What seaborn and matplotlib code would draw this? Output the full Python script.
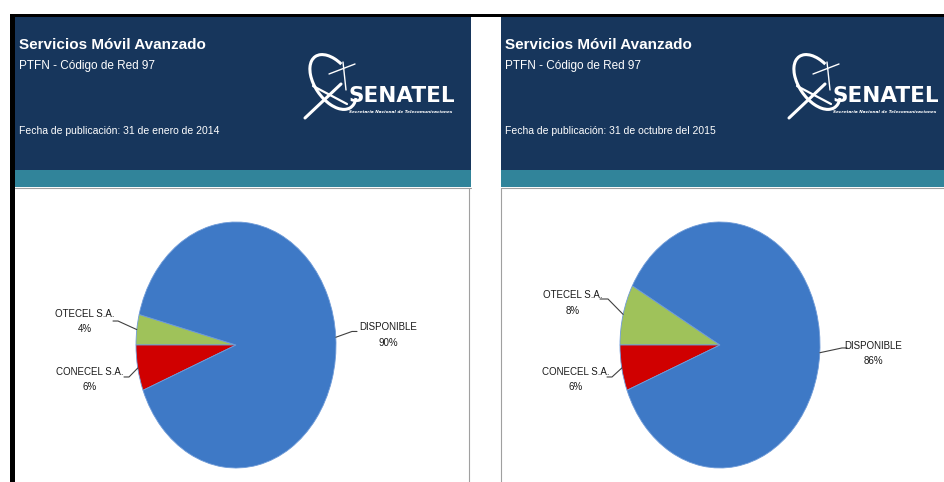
import numpy as np
import matplotlib
matplotlib.use("Agg")
import matplotlib.pyplot as plt
from matplotlib.patches import Rectangle, Arc
import seaborn as sns

# data
labels = ["OTECEL S.A.", "CONECEL S.A.", "DISPONIBLE"]
share_2014 = [4, 6, 90]
share_2015 = [8, 6, 86]
title = "Servicios Móvil Avanzado"
subtitle = "PTFN - Código de Red 97"
dates = ["Fecha de publicación: 31 de enero de 2014",
         "Fecha de publicación: 31 de octubre del 2015"]

colors = ["#9FC25A", "#D00000", "#3E79C6"]
NAVY = "#17365C"
TEAL = "#31849A"

sns.set_theme(style="white")
plt.rcParams["font.family"] = ["Liberation Sans Narrow", "Liberation Sans", "DejaVu Sans"]

W, H = 945, 482
fig = plt.figure(figsize=(9.45, 4.82), dpi=100)
fig.patch.set_facecolor("white")

# background axes in pixel coordinates for the report frame
bg = fig.add_axes([0, 0, 1, 1])
bg.set_xlim(0, W)
bg.set_ylim(H, 0)
bg.axis("off")

bg.add_patch(Rectangle((10, 14), W - 10, 3, color="black", lw=0))
bg.add_patch(Rectangle((10, 14), 5, H - 14, color="black", lw=0))

panels = [(15, 471), (501, W)]
for i, (x0, x1) in enumerate(panels):
    bg.add_patch(Rectangle((x0, 17), x1 - x0, 153, color=NAVY, lw=0))
    bg.add_patch(Rectangle((x0, 170), x1 - x0, 17, color=TEAL, lw=0))
    bg.plot([x0, x1], [188, 188], color="#A0A0A0", lw=0.8)
    if i == 0:
        bg.plot([x1 - 2, x1 - 2], [188, H], color="#A0A0A0", lw=0.8)
    else:
        bg.plot([x0, x0], [188, H], color="#A0A0A0", lw=0.8)

    tx = x0 + 4
    bg.text(tx, 45, title, color="white", fontsize=11, fontweight="bold", va="center")
    bg.text(tx, 66, subtitle, color="white", fontsize=8.5, va="center")
    bg.text(tx, 131, dates[i], color="white", fontsize=7.5, va="center")

    # SENATEL logo, roughly
    lx = 349 + 484 * i
    bg.text(lx, 96, "SENATEL", color="white", fontsize=15.5, fontweight="bold",
            family="DejaVu Sans", va="center", ha="left")
    bg.text(lx, 112, "Secretaría Nacional de Telecomunicaciones", color="white",
            fontsize=3.1, fontweight="bold", style="italic", family="DejaVu Sans",
            va="center", ha="left")
    bg.add_patch(Arc((lx - 16, 82), 36, 62, angle=-35, theta1=70, theta2=330,
                     color="white", lw=2.2))
    bg.plot([lx - 44, lx - 8], [118, 84], color="white", lw=2.2)
    bg.plot([lx - 36, lx - 2], [86, 104], color="white", lw=1.6)
    bg.plot([lx - 20, lx + 6], [74, 64], color="white", lw=1)
    bg.plot([lx - 6, lx - 3], [62, 90], color="white", lw=1)

# pies: center and radii in pixels, label layout in data units
charts = [
    dict(values=share_2014, cx=236,
         text_pos=[(-1.51, 0.19), (-1.46, -0.28), (1.52, 0.08)],
         elbow=[((-1.18, 0.195), (-1.23, 0.195)),
                ((-1.07, -0.26), (-1.12, -0.26)),
                ((1.16, 0.11), (1.21, 0.11))]),
    dict(values=share_2015, cx=720,
         text_pos=[(-1.47, 0.34), (-1.44, -0.28), (1.53, -0.07)],
         elbow=[((-1.12, 0.374), (-1.20, 0.374)),
                ((-1.08, -0.26), (-1.13, -0.26)),
                ((1.22, -0.024), (1.27, -0.024))]),
]
cy, rx, ry = 345, 100, 123

for ch in charts:
    ax = fig.add_axes([(ch["cx"] - rx) / W, 1 - (cy + ry) / H, 2 * rx / W, 2 * ry / H])
    vals = ch["values"]
    wedges, _ = ax.pie(vals, colors=colors, startangle=180 - vals[0] * 3.6,
                       counterclock=True,
                       wedgeprops=dict(edgecolor="#6F9BD8", linewidth=0.6))
    ax.set_aspect("auto")
    ax.set_xlim(-1, 1)
    ax.set_ylim(-1, 1)
    ax.axis("off")

    for w, lab, v, (px, py), (elb, end) in zip(wedges, labels, vals,
                                              ch["text_pos"], ch["elbow"]):
        mid = np.deg2rad((w.theta1 + w.theta2) / 2)
        ax.plot([np.cos(mid), elb[0], end[0]], [np.sin(mid), elb[1], end[1]],
                color="#404040", lw=0.8, clip_on=False)
        ax.text(px, py, f"{lab}\n{v}%", ha="center", va="center", fontsize=7,
                linespacing=1.7, color="#1A1A1A")

fig.savefig("out.png", dpi=100)
